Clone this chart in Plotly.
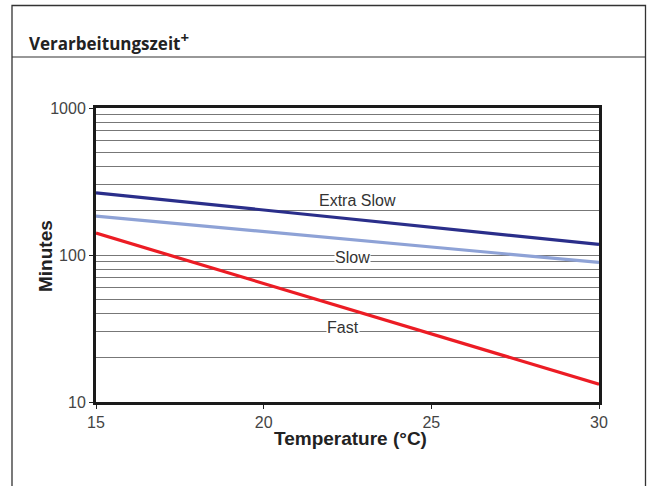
import math
import plotly.graph_objects as go

# Data
temperature = [15, 30]
extra_slow = [265, 118]
slow = [184, 89]
fast = [141, 13.2]
series_names = ["Extra Slow", "Slow", "Fast"]
series_colors = ["#2a2e8a", "#8ea2d6", "#ec1c24"]
label_x = [22.8, 22.66, 22.37]
label_y = [235, 96.5, 32.2]
x_ticks = [15, 20, 25, 30]
y_ticks = [10, 100, 1000]

W, H = 651, 486
L, T = 96, 108
R = W - 599
B = H - 402
pw, ph = W - L - R, H - T - B

def px(xp):
    return (xp - L) / pw

def py(yp):
    return (H - B - yp) / ph

fig = go.Figure()
for name, vals, col in zip(series_names, [extra_slow, slow, fast], series_colors):
    fig.add_trace(go.Scatter(x=temperature, y=vals, mode="lines", name=name,
                             line=dict(color=col, width=3.2), showlegend=False))

for i, (name, lx, ly) in enumerate(zip(series_names, label_x, label_y)):
    fig.add_annotation(x=lx, y=math.log10(ly), xref="x", yref="y", text=name, showarrow=False,
                       xanchor="center", yanchor="middle",
                       font=dict(family="Liberation Sans", size=16, color="#333"),
                       bgcolor="white" if i > 0 else "rgba(0,0,0,0)", borderpad=0)

# Outer frame (open at the bottom) and title band
x_left, x_right, y_top, y_bot = px(12), px(645.5), py(5.5), py(486)
fig.add_shape(type="path", xref="paper", yref="paper",
              path=f"M {x_left} {y_bot} L {x_left} {y_top} L {x_right} {y_top} L {x_right} {y_bot}",
              line=dict(color="#333", width=1.3), layer="below")
fig.add_shape(type="line", xref="paper", yref="paper", x0=x_left, x1=x_right,
              y0=py(57), y1=py(57), line=dict(color="#333", width=1.2))
fig.add_annotation(xref="paper", yref="paper", x=px(27), y=py(41), xanchor="left", yanchor="middle",
                   text="<b>Verarbeitungszeit<sup><span style='font-size:15px'>+</span></sup></b>",
                   showarrow=False, font=dict(family="Open Sans", size=17, color="#222"))

# Axis titles
fig.add_annotation(xref="paper", yref="paper", x=px(45), y=py(256), text="<b>Minutes</b>",
                   textangle=-90, showarrow=False, xanchor="center", yanchor="middle",
                   font=dict(family="Liberation Sans", size=19, color="#222"))
fig.add_annotation(xref="paper", yref="paper", x=px(350), y=py(438), text="<b>Temperature (°C)</b>",
                   showarrow=False, xanchor="center", yanchor="middle",
                   font=dict(family="Liberation Sans", size=19, color="#222"))

fig.update_layout(
    width=W, height=H, margin=dict(l=L, r=R, t=T, b=B),
    paper_bgcolor="white", plot_bgcolor="white",
    xaxis=dict(range=[15, 30], tickvals=x_ticks, ticks="outside", ticklen=4, tickcolor="#222",
               showgrid=False, zeroline=False, showline=True, linecolor="#1a1a1a", linewidth=3,
               mirror=True, tickfont=dict(family="Liberation Sans", size=16, color="#444")),
    yaxis=dict(type="log", range=[1, 3], tickvals=y_ticks, ticktext=[str(v) for v in y_ticks],
               ticks="outside", ticklen=4, tickcolor="#222",
               showgrid=True, gridcolor="#777", gridwidth=1, zeroline=False,
               showline=True, linecolor="#1a1a1a", linewidth=3, mirror=True,
               tickfont=dict(family="Liberation Sans", size=16, color="#444"),
               minor=dict(dtick="D1", showgrid=True, gridcolor="#777", gridwidth=1, ticks="")),
)

fig.write_html(
    "out.html",
    config={"displayModeBar": False},
    post_script=("document.body.style.margin='0';"
                 "document.body.style.overflow='hidden';"
                 "document.documentElement.style.overflow='hidden';"),
)
